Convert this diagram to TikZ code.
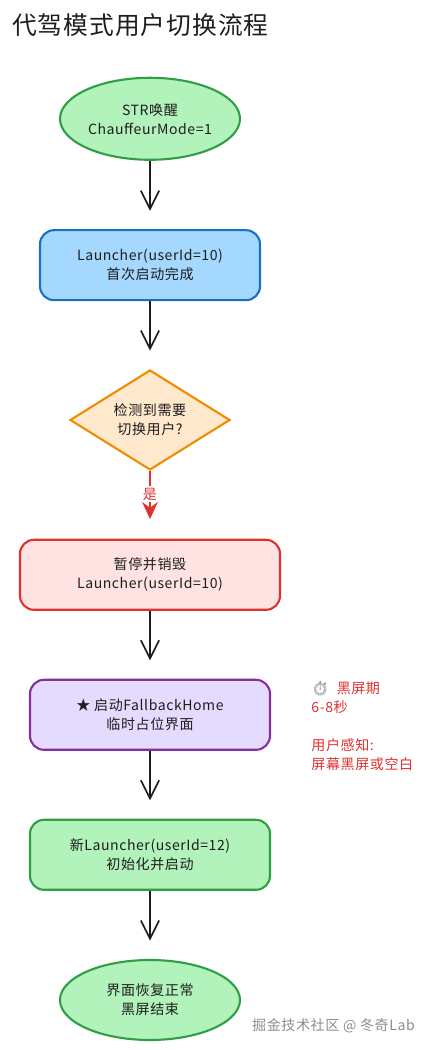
\documentclass[tikz,border=0pt]{standalone}
\usepackage{fontspec}
\setmainfont[LetterSpace=4]{Noto Sans CJK SC}
\newfontfamily\emojifont{Noto Emoji}
\usetikzlibrary{arrows.meta, shapes.geometric}
\definecolor{inkdark}{HTML}{1E1E1E}
\definecolor{greenfill}{HTML}{B2F2BB}
\definecolor{greenline}{HTML}{2F9E44}
\definecolor{bluefill}{HTML}{A5D8FF}
\definecolor{blueline}{HTML}{1971C2}
\definecolor{orangefill}{HTML}{FFE8CC}
\definecolor{orangeline}{HTML}{F08C00}
\definecolor{redfill}{HTML}{FFE3E3}
\definecolor{redline}{HTML}{E03131}
\definecolor{purplefill}{HTML}{E5DBFF}
\definecolor{purpleline}{HTML}{862E9C}
\begin{document}
\begin{tikzpicture}[>={Straight Barb[length=13pt, width=13pt]}, font=\fontsize{10}{13.5}\selectfont,
      text=inkdark,
      terminal/.style={ellipse, draw=greenline, fill=greenfill, line width=1.5pt,
                       minimum width=4.5cm, minimum height=2.05cm, inner sep=0pt, align=center},
      process/.style={rectangle, rounded corners=0.35cm, line width=1.5pt,
                      minimum height=1.75cm, align=center},
      decision/.style={diamond, draw=orangeline, fill=orangefill, line width=1.5pt, aspect=1.6,
                       minimum width=4cm, minimum height=2.5cm, inner sep=0pt, align=center},
      flow/.style={->, line width=1.2pt, inkdark, shorten >=13pt},
      yesflow/.style={line width=1.5pt, redline, shorten >=14pt,
                      -{Stealth[length=12pt, width=11pt]}},
    ]
    \useasboundingbox (0, 0) rectangle (10.625, 26.25);

    % Title
    \node[font=\fontsize{17.6}{22}\selectfont, anchor=west, inner sep=0pt] (title) at (0.3, 25.62)
      {代驾模式用户切换流程};

    % Flow nodes, top to bottom
    \node[terminal] (wake) at (3.75, 23.28) {STR唤醒\\ChauffeurMode=1};
    \node[process, draw=blueline, fill=bluefill, minimum width=5.5cm] (first) at (3.75, 19.62)
      {Launcher(userId=10)\\首次启动完成};
    \node[decision] (check) at (3.75, 15.75) {检测到需要\\切换用户?};
    \node[process, draw=redline, fill=redfill, minimum width=6.5cm] (destroy) at (3.75, 11.88)
      {暂停并销毁\\Launcher(userId=10)};
    \node[process, draw=purpleline, fill=purplefill, minimum width=6cm] (fallback) at (3.75, 8.38)
      {★ 启动FallbackHome\\临时占位界面};
    \node[process, draw=greenline, fill=greenfill, minimum width=6cm] (newuser) at (3.75, 4.88)
      {新Launcher(userId=12)\\初始化并启动};
    \node[terminal, minimum height=2cm] (done) at (3.75, 1.25) {界面恢复正常\\黑屏结束};

    % Connectors
    \draw[flow] (wake) -- (first);
    \draw[flow] (first) -- (check);
    \draw[yesflow] (check) -- (destroy)
      node[pos=0.34, fill=white, inner sep=1pt, text=redline] (yes) {是};
    \draw[flow] (destroy) -- (fallback);
    \draw[flow] (fallback) -- (newuser);
    \draw[flow] (newuser) -- (done);

    % Side note
    \node[anchor=west, align=left, inner sep=0pt, text=redline] (note) at (7.78, 8.1)
      {{\emojifont\textcolor{gray}{⏱}}\ \ 黑屏期\\6-8秒\\[13.5pt]用户感知:\\屏幕黑屏或空白};

    % Watermark
    \node[anchor=east, inner sep=0pt, text=black!45] (mark) at (10.375, 0.6)
      {掘金技术社区 @ 冬奇Lab};
  \end{tikzpicture}
\end{document}
